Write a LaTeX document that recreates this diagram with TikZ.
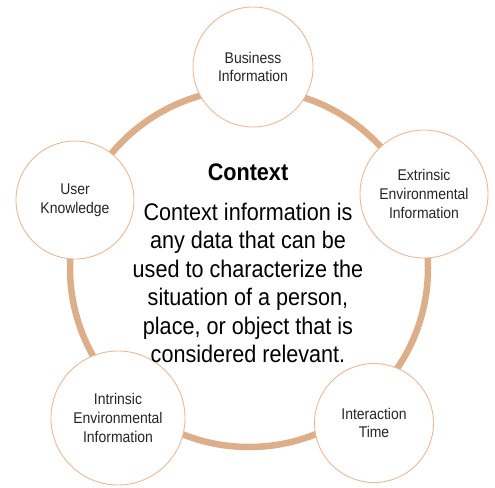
\documentclass[tikz,border=0pt]{standalone}
\usepackage{fontspec}
\setmainfont{Liberation Sans}[FakeStretch=0.9]
\usepackage{xcolor}
\usetikzlibrary{shapes,positioning}

\definecolor{ringtan}{RGB}{221,174,138}
\definecolor{edgetan}{RGB}{232,186,154}

\tikzset{
  topic/.style={circle, draw=edgetan, line width=0.9pt, fill=white, inner sep=0pt,
    align=center, text=black!85, font=\fontsize{15.5}{18.7}\selectfont},
}

\begin{document}
\begin{tikzpicture}[x=1pt,y=-1pt]
\useasboundingbox (0,0) rectangle (495,487);

% big ring behind the topics
\draw[ringtan, line width=6.5pt] (249,268) circle (179);

\node[topic, minimum size=120pt] (biz) at (253,67) {Business\\Information};
\node[topic, minimum size=128pt] (extr) at (424,194) {Extrinsic\\Environmental\\Information};
\node[topic, minimum size=118pt] (user) at (75,200) {User\\Knowledge};
\node[topic, minimum size=134pt] (intr) at (118,418) {Intrinsic\\Environmental\\Information};
\node[topic, minimum size=119pt] (time) at (374,423) {Interaction\\Time};

\node[inner sep=0pt, font=\fontsize{24}{28.4}\selectfont\bfseries] (ctx) at (248,172.5) {Context};
\node[inner sep=0pt, align=center, font=\fontsize{24}{28.4}\selectfont] (def) at (248,283)
  {Context information is\\any data that can be\\used to characterize the\\situation of a person,\\place, or object that is\\considered relevant.};
\end{tikzpicture}
\end{document}
